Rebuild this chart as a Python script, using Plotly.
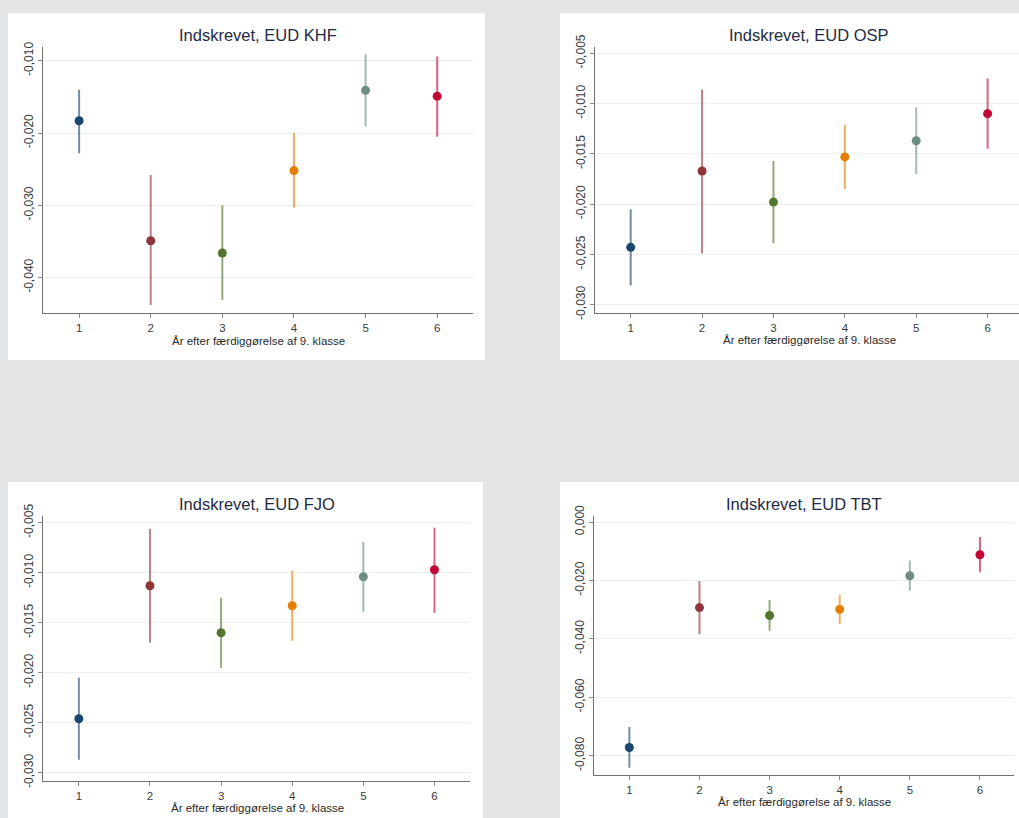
import plotly.graph_objects as go

W, H = 1019, 818

years = [1, 2, 3, 4, 5, 6]

# Point estimates with lower / upper confidence limits per outcome
khf_est = [-0.0183, -0.0349, -0.0366, -0.0252, -0.0141, -0.0149]
khf_lo = [-0.0228, -0.0438, -0.0431, -0.0303, -0.0191, -0.0205]
khf_hi = [-0.0140, -0.0258, -0.0300, -0.0200, -0.0091, -0.0094]

osp_est = [-0.0243, -0.0167, -0.0198, -0.0153, -0.0137, -0.0110]
osp_lo = [-0.0281, -0.0249, -0.0239, -0.0185, -0.0170, -0.0145]
osp_hi = [-0.0205, -0.0086, -0.0157, -0.0121, -0.0104, -0.0075]

fjo_est = [-0.0246, -0.0113, -0.0160, -0.0133, -0.0104, -0.0097]
fjo_lo = [-0.0287, -0.0170, -0.0195, -0.0168, -0.0139, -0.0140]
fjo_hi = [-0.0205, -0.0056, -0.0125, -0.0098, -0.0069, -0.0055]

tbt_est = [-0.0772, -0.0293, -0.0320, -0.0299, -0.0184, -0.0112]
tbt_lo = [-0.0841, -0.0384, -0.0372, -0.0349, -0.0235, -0.0172]
tbt_hi = [-0.0702, -0.0202, -0.0267, -0.0250, -0.0132, -0.0051]

titles = ["Indskrevet, EUD KHF", "Indskrevet, EUD OSP",
          "Indskrevet, EUD FJO", "Indskrevet, EUD TBT"]
x_title = "År efter færdiggørelse af 9. klasse"

khf_ticks = [-0.010, -0.020, -0.030, -0.040]
khf_ticktext = ["-0,010", "-0,020", "-0,030", "-0,040"]
osp_ticks = [-0.005, -0.010, -0.015, -0.020, -0.025, -0.030]
osp_ticktext = ["-0,005", "-0,010", "-0,015", "-0,020", "-0,025", "-0,030"]
fjo_ticks = osp_ticks
fjo_ticktext = osp_ticktext
tbt_ticks = [0.0, -0.020, -0.040, -0.060, -0.080]
tbt_ticktext = ["0,000", "-0,020", "-0,040", "-0,060", "-0,080"]

marker_colors = ["#1a476f", "#90353b", "#55752f", "#e37e00", "#6e8e84", "#c10534"]
ci_alpha = 0.62


def rgba(hex_color, a):
    h = hex_color.lstrip("#")
    r, g, b = int(h[0:2], 16), int(h[2:4], 16), int(h[4:6], 16)
    return f"rgba({r},{g},{b},{a})"


def px_x(x):
    return x / W


def px_y(y):
    return 1 - y / H


# layout of each panel: (card box, plot box, x-range, y-range, title pos, x-title pos)
panels = [
    dict(est=khf_est, lo=khf_lo, hi=khf_hi, ticks=khf_ticks, ticktext=khf_ticktext,
         card=(8, 13, 485, 360), plot=(43.3, 47, 473, 313),
         xr=[0.5, 6.5], yr=[-0.0449, -0.0081], tpos=(258, 35), xtpos=(258, 341)),
    dict(est=osp_est, lo=osp_lo, hi=osp_hi, ticks=osp_ticks, ticktext=osp_ticktext,
         card=(560, 13, 1030, 360), plot=(595, 46.7, 1019, 312.7),
         xr=[0.5, 6.44], yr=[-0.0308, -0.00434], tpos=(809, 35), xtpos=(809, 340)),
    dict(est=fjo_est, lo=fjo_lo, hi=fjo_hi, ticks=fjo_ticks, ticktext=fjo_ticktext,
         card=(8, 482, 483, 830), plot=(43.3, 515.7, 470, 780.7),
         xr=[0.5, 6.5], yr=[-0.0308, -0.0043], tpos=(257, 504), xtpos=(257, 808)),
    dict(est=tbt_est, lo=tbt_lo, hi=tbt_hi, ticks=tbt_ticks, ticktext=tbt_ticktext,
         card=(560, 482, 1030, 830), plot=(594.3, 515.7, 1014.3, 775),
         xr=[0.5, 6.49], yr=[-0.0866, 0.00217], tpos=(804, 504), xtpos=(804, 802)),
]

fig = go.Figure()
shapes = []
annotations = []
font_family = "Liberation Sans, Arial, sans-serif"

for i, p in enumerate(panels):
    n = "" if i == 0 else str(i + 1)
    xa, ya = "x" + n, "y" + n
    for j, yr in enumerate(years):
        c = marker_colors[j]
        e = p["est"][j]
        fig.add_trace(go.Scatter(
            x=[yr], y=[e], xaxis=xa, yaxis=ya, mode="markers",
            marker=dict(size=9, color=c),
            error_y=dict(type="data", symmetric=False,
                         array=[p["hi"][j] - e], arrayminus=[e - p["lo"][j]],
                         color=rgba(c, ci_alpha), thickness=2, width=0),
            showlegend=False, hoverinfo="skip"))

    x0, y0, x1, y1 = p["plot"]
    axis_common = dict(showline=True, linecolor="#707070", linewidth=1.3,
                       ticks="outside", ticklen=4, tickcolor="#8a8a8a", tickwidth=1,
                       zeroline=False, fixedrange=True, automargin=False)
    fig.layout["xaxis" + n] = dict(
        domain=[px_x(x0), px_x(x1)], range=p["xr"], anchor=ya,
        tickvals=years, ticktext=[str(v) for v in years],
        tickfont=dict(family=font_family, size=11.5, color="#3a3a3a"),
        showgrid=False, **axis_common)
    fig.layout["yaxis" + n] = dict(
        domain=[px_y(y1), px_y(y0)], range=p["yr"], anchor=xa,
        tickvals=p["ticks"], ticktext=p["ticktext"], tickangle=-90,
        tickfont=dict(family=font_family, size=12, color="#3a3a3a"),
        showgrid=True, gridcolor="#eaf0f0", gridwidth=1.2, **axis_common)

    cx0, cy0, cx1, cy1 = p["card"]
    shapes.append(dict(type="rect", xref="paper", yref="paper", layer="below",
                       x0=px_x(cx0), x1=px_x(cx1), y0=px_y(cy1), y1=px_y(cy0),
                       fillcolor="white", line=dict(width=0)))

    tx, ty = p["tpos"]
    annotations.append(dict(text=titles[i], xref="paper", yref="paper",
                            x=px_x(tx), y=px_y(ty), xanchor="center", yanchor="middle",
                            showarrow=False,
                            font=dict(family=font_family, size=16.5, color="#1f2b45")))
    xx, xy = p["xtpos"]
    annotations.append(dict(text=x_title, xref="paper", yref="paper",
                            x=px_x(xx), y=px_y(xy), xanchor="center", yanchor="middle",
                            showarrow=False,
                            font=dict(family=font_family, size=11.5, color="#2a2a2a")))

fig.update_layout(
    width=W, height=H, margin=dict(l=0, r=0, t=0, b=0, autoexpand=False),
    paper_bgcolor="#e3e4e6", plot_bgcolor="white",
    shapes=shapes, annotations=annotations, showlegend=False)

fig.write_html("out.html", config={"displayModeBar": False})
